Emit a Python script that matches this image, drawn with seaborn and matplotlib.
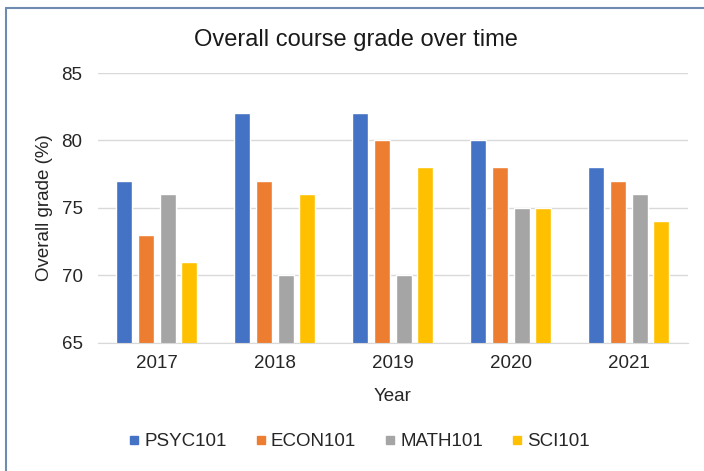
import matplotlib
matplotlib.use('Agg')

import pandas as pd
import matplotlib.pyplot as plt
import seaborn as sns
from matplotlib.lines import Line2D

# datos
years = ['2017', '2018', '2019', '2020', '2021']
courses = ['PSYC101', 'ECON101', 'MATH101', 'SCI101']
psyc101 = [77, 82, 82, 80, 78]
econ101 = [73, 77, 80, 78, 77]
math101 = [76, 70, 70, 75, 76]
sci101 = [71, 76, 78, 75, 74]
colores = ['#4472C4', '#ED7D31', '#A5A5A5', '#FFC000']

rows = []
for curso, vals in zip(courses, [psyc101, econ101, math101, sci101]):
    for y, v in zip(years, vals):
        rows.append({'Year': y, 'Course': curso, 'Grade': v})
df = pd.DataFrame(rows)

sns.set_style('white')
plt.rcParams['font.family'] = ['Liberation Sans', 'DejaVu Sans']

fig = plt.figure(figsize=(7.04, 4.71), dpi=100)
ax = fig.add_axes([0.139, 0.272, 0.838, 0.573])

sns.barplot(data=df, x='Year', y='Grade', hue='Course', order=years,
            hue_order=courses, palette=colores, width=0.735, gap=0.26,
            saturation=1, ax=ax, legend=False)

ax.set_ylim(65, 85)
ax.set_yticks([65, 70, 75, 80, 85])
ax.yaxis.grid(True, color='#D9D9D9', linewidth=1)
ax.set_axisbelow(True)
for s in ['top', 'right', 'left']:
    ax.spines[s].set_visible(False)
ax.spines['bottom'].set_color('#D9D9D9')
ax.tick_params(axis='both', length=0, labelsize=13.5, colors='#262626')
ax.tick_params(axis='y', pad=11)
ax.tick_params(axis='x', pad=9)
ax.set_xlabel('Year', fontsize=13.5, color='#262626')
ax.set_ylabel('Overall grade (%)', fontsize=13.5, color='#262626')
ax.xaxis.set_label_coords(0.5, -0.2)
ax.xaxis.label.set_va('center')
ax.yaxis.set_label_coords(-0.09, 0.5)
ax.yaxis.label.set_va('center')

fig.text(0.506, 0.915, 'Overall course grade over time', ha='center',
         va='center', fontsize=17, color='#1a1a1a')

# leyenda
handles = [Line2D([], [], marker='s', linestyle='', markersize=5.5,
                  color=c) for c in colores]
fig.legend(handles, courses, loc='center', bbox_to_anchor=(0.51, 0.062),
           ncol=4, frameon=False, fontsize=13.5, handletextpad=0.25,
           handlelength=0.6, columnspacing=1.5, labelcolor='#262626')

# borde
fig.add_artist(Line2D([0.008, 0.008], [0, 0.983], color='#6F8CB0', lw=1.5))
fig.add_artist(Line2D([0.008, 1.0], [0.983, 0.983], color='#6F8CB0', lw=1.5))

plt.savefig('out.png', dpi=100)
